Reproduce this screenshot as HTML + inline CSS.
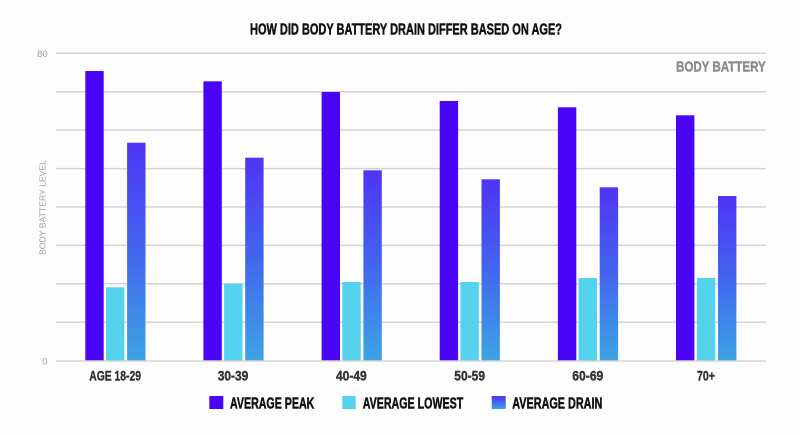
<!DOCTYPE html>
<html>
<head>
<meta charset="utf-8">
<style>
html,body{margin:0;padding:0;background:#fdfdfd;}
svg{display:block;}
</style>
</head>
<body>
<svg width="800" height="435" viewBox="0 0 800 435" xmlns="http://www.w3.org/2000/svg">
<defs>
<linearGradient id="dg" x1="0" y1="0" x2="0" y2="1">
<stop offset="0" stop-color="#4f34f6"/>
<stop offset="0.5" stop-color="#4266ee"/>
<stop offset="1" stop-color="#3ca4e4"/>
</linearGradient>
</defs>
<rect width="800" height="435" fill="#fdfdfd"/>

<!-- title -->
<text x="250" y="34.3" textLength="312" lengthAdjust="spacingAndGlyphs" font-family="'Liberation Sans', sans-serif" font-weight="bold" font-size="15.3" fill="#111" stroke="#111" stroke-width="0.5">HOW DID BODY BATTERY DRAIN DIFFER BASED ON AGE?</text>

<!-- gridlines -->
<g stroke="#d4d4d4" stroke-width="1.5">
<line x1="56" x2="766" y1="53.3" y2="53.3"/>
<line x1="56" x2="766" y1="91.7" y2="91.7"/>
<line x1="56" x2="766" y1="130.1" y2="130.1"/>
<line x1="56" x2="766" y1="168.6" y2="168.6"/>
<line x1="56" x2="766" y1="207" y2="207"/>
<line x1="56" x2="766" y1="245.4" y2="245.4"/>
<line x1="56" x2="766" y1="283.8" y2="283.8"/>
<line x1="56" x2="766" y1="322.2" y2="322.2"/>
</g>

<!-- BODY BATTERY label -->
<text x="676" y="71.7" textLength="89.7" lengthAdjust="spacingAndGlyphs" font-family="'Liberation Sans', sans-serif" font-weight="bold" font-size="14.8" fill="#8a8a8a" stroke="#8a8a8a" stroke-width="0.4">BODY BATTERY</text>

<!-- y axis -->
<text x="47.7" y="56.8" text-anchor="end" font-family="'Liberation Sans', sans-serif" font-size="9.5" fill="#9a9a9a">80</text>
<text x="47.5" y="364.3" text-anchor="end" font-family="'Liberation Sans', sans-serif" font-size="9.5" fill="#9a9a9a">0</text>
<text transform="translate(45.7,255) rotate(-90)" x="0" y="0" textLength="95" lengthAdjust="spacingAndGlyphs" font-family="'Liberation Sans', sans-serif" font-size="8.5" fill="#9a9a9a">BODY BATTERY LEVEL</text>

<!-- bars -->
<g>
<rect x="85.3" y="71" width="18.4" height="290" fill="#4a05f7"/>
<rect x="106" y="287.3" width="18.4" height="73.7" fill="#55d2ee"/>
<rect x="127.1" y="142.7" width="18.4" height="218.3" fill="url(#dg)"/>

<rect x="203.4" y="81.3" width="18.4" height="279.7" fill="#4a05f7"/>
<rect x="224.1" y="283.7" width="18.4" height="77.3" fill="#55d2ee"/>
<rect x="245.2" y="157.7" width="18.4" height="203.3" fill="url(#dg)"/>

<rect x="321.6" y="92" width="18.4" height="269" fill="#4a05f7"/>
<rect x="342.3" y="282" width="18.4" height="79" fill="#55d2ee"/>
<rect x="363.4" y="170.3" width="18.4" height="190.7" fill="url(#dg)"/>

<rect x="439.7" y="101" width="18.4" height="260" fill="#4a05f7"/>
<rect x="460.4" y="282" width="18.4" height="79" fill="#55d2ee"/>
<rect x="481.5" y="179.3" width="18.4" height="181.7" fill="url(#dg)"/>

<rect x="557.9" y="107.3" width="18.4" height="253.7" fill="#4a05f7"/>
<rect x="578.6" y="278" width="18.4" height="83" fill="#55d2ee"/>
<rect x="599.7" y="187.3" width="18.4" height="173.7" fill="url(#dg)"/>

<rect x="676" y="115.3" width="18.4" height="245.7" fill="#4a05f7"/>
<rect x="696.9" y="278" width="18.4" height="83" fill="#55d2ee"/>
<rect x="718" y="196" width="18.4" height="165" fill="url(#dg)"/>
</g>

<!-- baseline -->
<line x1="56" x2="766" y1="361" y2="361" stroke="#d4d4d4" stroke-width="1.5"/>

<!-- x labels -->
<g font-family="'Liberation Sans', sans-serif" font-weight="bold" font-size="14" fill="#333" stroke="#333" stroke-width="0.4">
<text x="89.3" y="380.3" textLength="51.7" lengthAdjust="spacingAndGlyphs">AGE 18-29</text>
<text x="217.7" y="380.3" textLength="30.6" lengthAdjust="spacingAndGlyphs">30-39</text>
<text x="336" y="380.3" textLength="30.7" lengthAdjust="spacingAndGlyphs">40-49</text>
<text x="454.3" y="380.3" textLength="30.7" lengthAdjust="spacingAndGlyphs">50-59</text>
<text x="572.3" y="380.3" textLength="31" lengthAdjust="spacingAndGlyphs">60-69</text>
<text x="697" y="380.3" textLength="18" lengthAdjust="spacingAndGlyphs">70+</text>
</g>

<!-- legend -->
<rect x="209.3" y="396" width="14" height="13" fill="#4a05f7"/>
<rect x="342.3" y="396" width="13.4" height="13" fill="#55d2ee"/>
<rect x="491.7" y="396" width="14" height="13" fill="url(#dg)"/>
<g font-family="'Liberation Sans', sans-serif" font-weight="bold" font-size="15.3" fill="#111" stroke="#111" stroke-width="0.5">
<text x="230" y="408.4" textLength="84.3" lengthAdjust="spacingAndGlyphs">AVERAGE PEAK</text>
<text x="362.7" y="408.4" textLength="100.6" lengthAdjust="spacingAndGlyphs">AVERAGE LOWEST</text>
<text x="512.3" y="408.4" textLength="90" lengthAdjust="spacingAndGlyphs">AVERAGE DRAIN</text>
</g>
</svg>
</body>
</html>
